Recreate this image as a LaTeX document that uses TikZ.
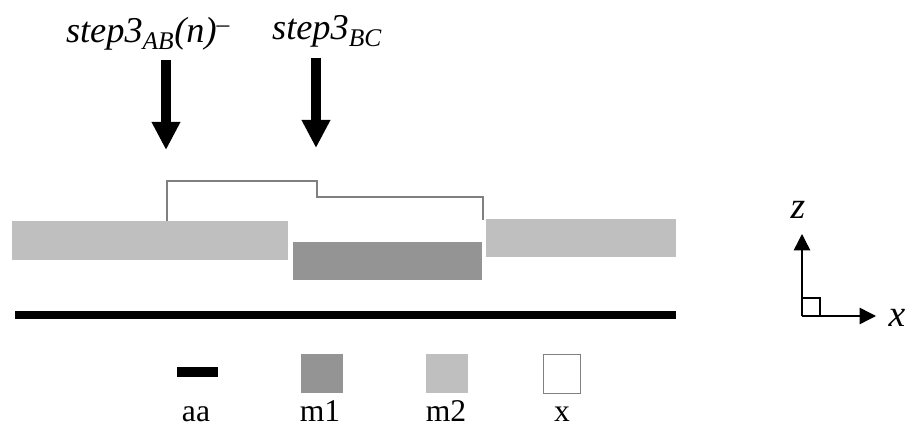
\documentclass[tikz,border=0pt]{standalone}
\usepackage{fontspec}
\setmainfont{Liberation Serif}
\usetikzlibrary{arrows.meta}
\begin{document}
\begin{tikzpicture}[x=0.03cm, y=-0.03cm,
          font=\fontsize{27}{30}\selectfont,
          steplab/.style={anchor=base, font=\fontsize{31}{34}\selectfont\itshape},
          leglab/.style={anchor=base, inner sep=0pt},
          lightbar/.style={fill=gray!50!white, draw=none},
          darkbar/.style={fill=black!42, draw=none},
          steparrow/.style={line width=8.5pt, -{Triangle[width=23pt, length=24pt]}},
          axisarrow/.style={line width=1.2pt, -{Triangle[width=14pt, length=14pt]}}]
        \useasboundingbox (0,0) rectangle (912,431);
        % layers: m2 | m1 | m2 over the aa line
        \draw[lightbar] (12,221) rectangle (288,260);
        \draw[darkbar] (293,242) rectangle (482,280);
        \draw[lightbar] (486,219) rectangle (676,257);
        \draw[line width=6pt] (15,315) -- (676,315);
        % step outline
        \draw[gray, line width=1.2pt] (167,221) -- (167,181) -- (317,181) -- (317,197)
          -- (483,197) -- (483,220);
        % step labels and arrows
        \node[steplab] (labAB) at (148,43) {step3\textsubscript{AB}(n)\textsuperscript{--}};
        \node[steplab] (labBC) at (327,40) {step3\textsubscript{BC}};
        \coordinate (tipAB) at (166,150);
        \coordinate (tipBC) at (316,148);
        \draw[steparrow] (166,60) -- (tipAB);
        \draw[steparrow] (316,58) -- (tipBC);
        % axes
        \coordinate (orig) at (802,316);
        \coordinate (zend) at (802,234);
        \coordinate (xend) at (876,316);
        \draw[axisarrow] (orig) -- (zend);
        \draw[axisarrow] (orig) -- (xend);
        \draw[line width=1pt] (802,298) -- (820,298) -- (820,316);
        \node[font=\fontsize{32}{34}\selectfont\itshape] (zlab) at (798,210) {z};
        \node[font=\fontsize{32}{34}\selectfont\itshape] (xlab) at (897,318) {x};
        % legend
        \fill[black] (177,367) rectangle (218,377);
        \draw[darkbar] (301,354) rectangle (343,393);
        \draw[lightbar] (426,354) rectangle (468,393);
        \draw[gray, fill=white, line width=0.8pt] (543,354) rectangle (580,393);
        \node[leglab] (legaa) at (196,422) {aa};
        \node[leglab] (legmA) at (320,422) {m1};
        \node[leglab] (legmB) at (446,422) {m2};
        \node[leglab] (legx) at (562,422) {x};
      \end{tikzpicture}
\end{document}
